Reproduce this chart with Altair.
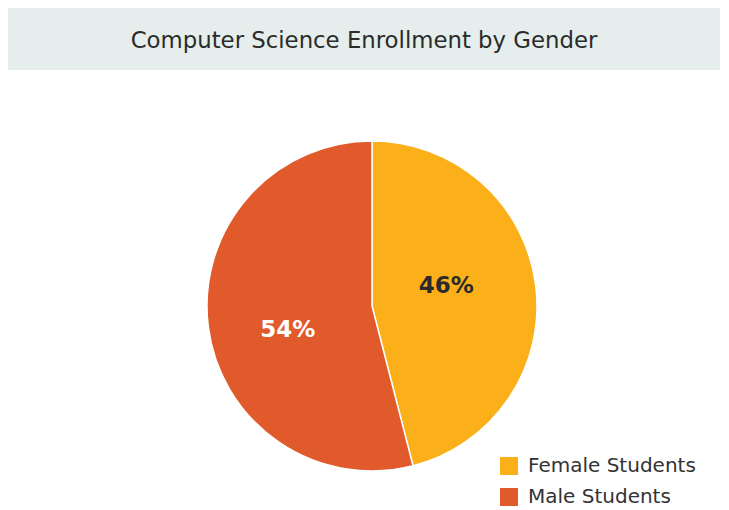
import altair as alt
import pandas as pd
import math

title_text = "Computer Science Enrollment by Gender"
categories = ["Female Students", "Male Students"]
values = [46, 54]
labels = ["46%", "54%"]
colors = ["#FBB01A", "#E05A2B"]

df = pd.DataFrame({"category": categories, "value": values, "label": labels,
                   "order": list(range(len(categories)))})

W, H = 713, 502
CX, CY, R = 364, 298, 165
FONT = "DejaVu Sans"

color_scale = alt.Scale(domain=categories, range=colors)
angle_scale = alt.Scale(domain=[0, sum(values)], range=[0, 2 * math.pi])

base = alt.Chart(df).transform_window(
    cum="sum(value)", sort=[alt.SortField("order")]
).transform_calculate(mid="datum.cum - datum.value / 2")

header_box = alt.Chart(pd.DataFrame({"t": [title_text]})).mark_rect(color="#E5EEEC").encode(
    x=alt.value(0), x2=alt.value(712), y=alt.value(0), y2=alt.value(62)
)
header_text = alt.Chart(pd.DataFrame({"t": [title_text]})).mark_text(
    font=FONT, fontSize=22.8, color="#2b2b2b", align="center", baseline="middle"
).encode(text="t:N", x=alt.value(356), y=alt.value(33))

pie = alt.Chart(df).mark_arc(outerRadius=R, stroke="white", strokeWidth=1.5).encode(
    theta=alt.Theta("value:Q", stack=True),
    order=alt.Order("order:Q"),
    color=alt.Color("category:N", scale=color_scale, sort=categories,
                    legend=alt.Legend(title=None, orient="none", legendX=491, legendY=448,
                                      symbolType="square", symbolSize=324,
                                      symbolStrokeWidth=0, labelFontSize=20,
                                      labelFont=FONT, labelColor="#333333",
                                      labelLimit=400,
                                      labelOffset=9, rowPadding=11)),
    x=alt.value(CX), y=alt.value(CY),
)

lab_f = base.transform_filter(alt.datum.category == categories[0]).mark_text(
    radius=77, fontSize=23, fontWeight="bold", font=FONT, color="#2a2a2a", dx=-2, dy=-10
).encode(theta=alt.Theta("mid:Q", scale=angle_scale, stack=None),
         text="label:N", x=alt.value(CX), y=alt.value(CY))

lab_m = base.transform_filter(alt.datum.category == categories[1]).mark_text(
    radius=85, fontSize=23, fontWeight="bold", font=FONT, color="white", dy=13
).encode(theta=alt.Theta("mid:Q", scale=angle_scale, stack=None),
         text="label:N", x=alt.value(CX), y=alt.value(CY))

chart = alt.layer(header_box, header_text, pie, lab_f, lab_m).properties(
    width=W, height=H, autosize=alt.AutoSizeParams(type="none"), padding=0
).resolve_scale(theta="independent").configure_view(stroke=None)

chart.save("out.html", embed_options={"renderer": "svg", "actions": False})
